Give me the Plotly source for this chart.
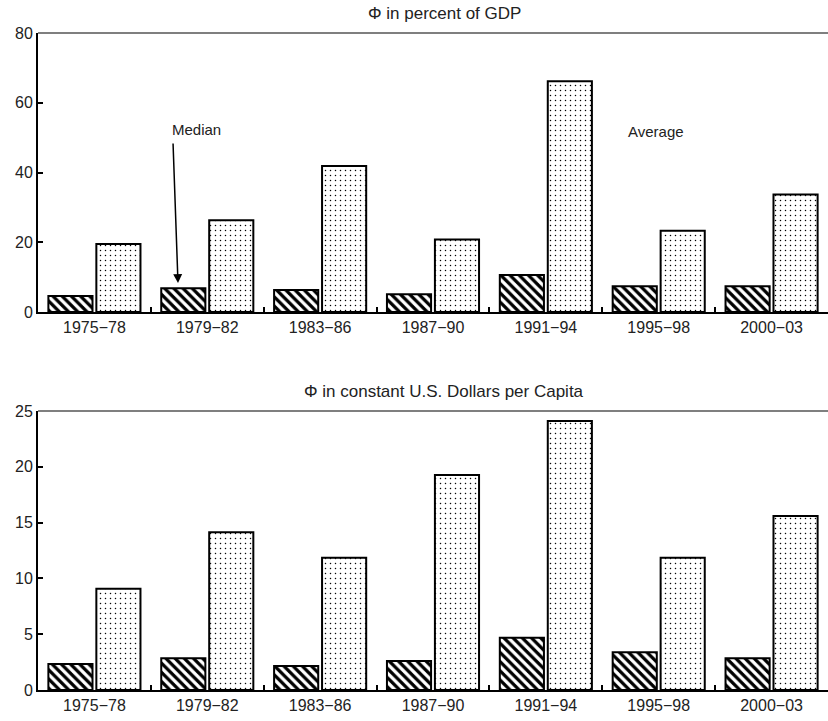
import plotly.graph_objects as go
from plotly.subplots import make_subplots

periods = ["1975−78", "1979−82", "1983−86", "1987−90", "1991−94", "1995−98", "2000−03"]
gdp_median = [4.6, 6.8, 6.3, 5.1, 10.6, 7.4, 7.4]
gdp_average = [19.5, 26.3, 41.9, 20.8, 66.2, 23.3, 33.7]
usd_median = [2.33, 2.84, 2.15, 2.6, 4.69, 3.38, 2.84]
usd_average = [9.08, 14.13, 11.86, 19.27, 24.1, 11.86, 15.59]
titles = ["Φ in percent of GDP", "Φ in constant U.S. Dollars per Capita"]

FONT = "Liberation Sans, Arial, Helvetica, sans-serif"

fig = make_subplots(rows=2, cols=1, vertical_spacing=0.1506)

hatch = dict(shape="\\", fgcolor="black", bgcolor="white", fgopacity=1,
             size=6.5, solidity=0.5)
dots = dict(shape=".", fgcolor="black", bgcolor="white", fgopacity=1,
            size=5, solidity=0.07)

for row, (med, avg) in enumerate([(gdp_median, gdp_average), (usd_median, usd_average)], start=1):
    fig.add_trace(go.Bar(x=periods, y=med, name="Median",
                         marker=dict(color="white", pattern=hatch,
                                     line=dict(color="black", width=2)),
                         showlegend=False), row=row, col=1)
    fig.add_trace(go.Bar(x=periods, y=avg, name="Average",
                         marker=dict(color="white", pattern=dots,
                                     line=dict(color="black", width=2)),
                         showlegend=False), row=row, col=1)

fig.update_layout(
    width=828, height=721,
    margin=dict(l=38, r=0, t=33, b=31),
    plot_bgcolor="white", paper_bgcolor="white",
    barmode="group", bargap=0.15, bargroupgap=0.08,
    font=dict(family=FONT, size=15, color="#222"),
)

fig.update_xaxes(showline=True, linecolor="black", linewidth=2, automargin=False,
                 ticks="inside", tickson="boundaries", ticklen=5, tickwidth=1.5,
                 tickcolor="black", showgrid=False, zeroline=False,
                 tickfont=dict(size=16, family=FONT, color="#222"))
fig.update_yaxes(showline=True, linecolor="black", linewidth=2, automargin=False,
                 ticks="inside", ticklen=5, tickwidth=1.5, tickcolor="black",
                 showgrid=False, zeroline=False,
                 tickfont=dict(size=16, family=FONT, color="#222"))
fig.update_yaxes(range=[0, 80], dtick=20, row=1, col=1)
fig.update_yaxes(range=[0, 25], dtick=5, row=2, col=1)

# grey top frame lines
for xr, yr in [("x domain", "y domain"), ("x2 domain", "y2 domain")]:
    fig.add_shape(type="line", xref=xr, yref=yr, x0=0, x1=1, y0=1, y1=1,
                  line=dict(color="#555", width=1.5))

# titles
fig.add_annotation(text=titles[0], xref="x domain", yref="y domain", x=0.514, y=1.0,
                   xanchor="center", yshift=8, yanchor="bottom", showarrow=False,
                   font=dict(size=17, family=FONT, color="#222"))
fig.add_annotation(text=titles[1], xref="x2 domain", yref="y2 domain", x=0.514, y=1.0,
                   xanchor="center", yshift=8, yanchor="bottom", showarrow=False,
                   font=dict(size=17, family=FONT, color="#222"))

# labels
fig.add_annotation(text="Median", xref="x domain", yref="y", x=(196 - 38) / 790, y=52.3,
                   xanchor="center", showarrow=False,
                   font=dict(size=15, family=FONT, color="#222"))
fig.add_annotation(text="", xref="x domain", yref="y", x=(178 - 38) / 790, y=8.3,
                   ax=-5, ay=-141, axref="pixel", ayref="pixel",
                   showarrow=True, arrowhead=2, arrowsize=1.2, arrowwidth=1.5,
                   arrowcolor="black")
fig.add_annotation(text="Average", xref="x domain", yref="y", x=(656 - 38) / 790, y=51.7,
                   xanchor="center", showarrow=False,
                   font=dict(size=15, family=FONT, color="#222"))

# remove the default page margin so the figure fills the window exactly
fig.write_html("out.html", config={"displayModeBar": False},
               post_script="document.body.style.margin='0';document.body.style.overflow='hidden';")
